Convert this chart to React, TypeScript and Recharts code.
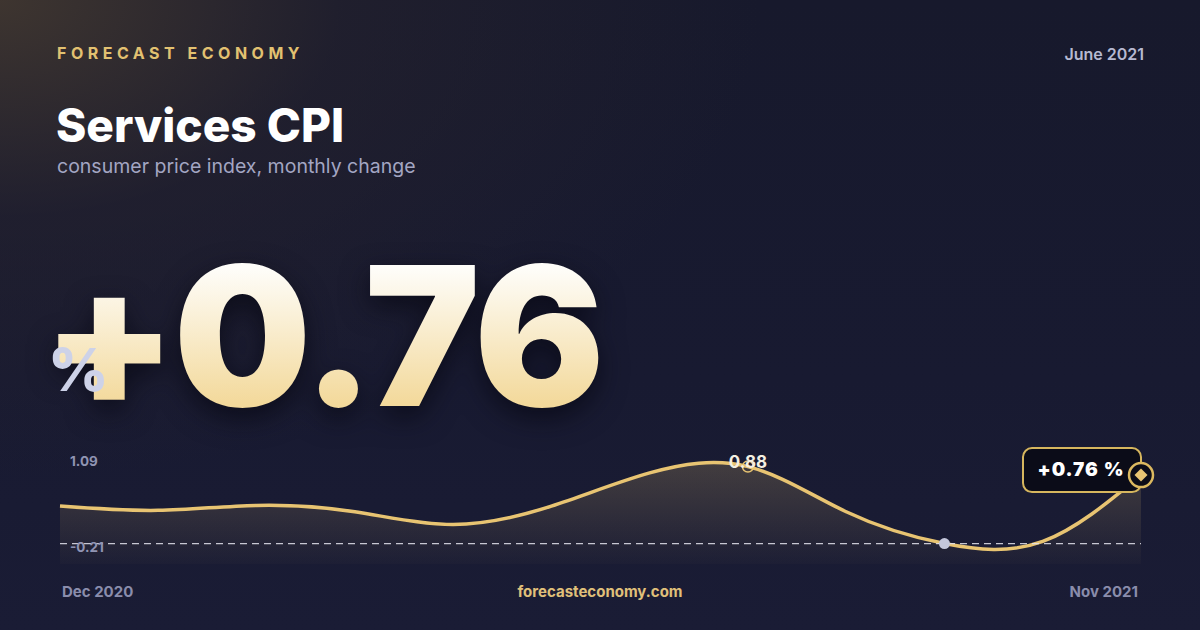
import React from "react";
import { AreaChart, Area, XAxis, YAxis, ReferenceLine } from "recharts";

// monthly change, Dec 2020 .. Nov 2021
const months = [
  "Dec 2020", "Jan 2021", "Feb 2021", "Mar 2021", "Apr 2021", "May 2021",
  "Jun 2021", "Jul 2021", "Aug 2021", "Sep 2021", "Oct 2021", "Nov 2021",
];
const cpiChange = [0.32, 0.26, 0.33, 0.24, 0.06, 0.32, 0.79, 0.88, 0.24, -0.21, -0.18, 0.76];
const rangeLabels = ["1.09", "-0.21"];
const minValue = -0.21;
const yDomain = [-0.5, 1.2];

const data = months.map((m, i) => ({ month: m, value: cpiChange[i] }));

const GOLD = "#e8c472";
const FONT = "Inter, 'Noto Sans', sans-serif";

const peakIdx = cpiChange.indexOf(Math.max(...cpiChange));
const lowIdx = cpiChange.indexOf(Math.min(...cpiChange));
const lastIdx = cpiChange.length - 1;

function Marker(props: any) {
  const { cx, cy, index } = props;
  if (cx == null || cy == null) return <g />;
  const v = cpiChange[index];
  if (index === peakIdx) {
    return (
      <g>
        <circle cx={cx} cy={cy} r={5.5} fill="none" stroke={GOLD} strokeWidth={1.5} />
        <text x={cx} y={cy + 1} textAnchor="middle" fill="#f4efe2" fontSize={17} fontWeight={700} fontFamily={FONT}>
          {v.toFixed(2)}
        </text>
      </g>
    );
  }
  if (index === lowIdx) {
    return (
      <g>
        <circle cx={cx} cy={cy} r={5.5} fill="#c4c7dc" />
      </g>
    );
  }
  if (index === lastIdx) {
    const d = 6.5;
    return (
      <g>
        <rect x={cx - 118} y={cy - 27} width={118} height={44} rx={9} fill="#0b0c18" stroke="#d6b65e" strokeWidth={2} />
        <text x={cx - 60} y={cy + 1} textAnchor="middle" fill="#ffffff" fontSize={19} fontWeight={900} letterSpacing={1} fontFamily={FONT}>
          {`+${v.toFixed(2)} %`}
        </text>
        <circle cx={cx} cy={cy} r={12} fill="#0b0c18" stroke="#dcb960" strokeWidth={2.5} />
        <polygon points={`${cx},${cy - d} ${cx + d},${cy} ${cx},${cy + d} ${cx - d},${cy}`} fill={GOLD} />
      </g>
    );
  }
  return <g />;
}

const abs = (left: number, top: number, extra: React.CSSProperties = {}): React.CSSProperties => ({
  position: "absolute",
  left,
  top,
  margin: 0,
  whiteSpace: "nowrap",
  ...extra,
});

export default function App() {
  return (
    <div
      style={{
        position: "absolute",
        left: 0,
        top: 0,
        width: 1200,
        height: 630,
        overflow: "hidden",
        fontFamily: FONT,
        background:
          "radial-gradient(ellipse 760px 480px at 0% 0%, rgba(66,56,48,0.9) 0%, rgba(40,36,46,0.5) 45%, rgba(24,26,46,0) 100%), linear-gradient(180deg, #17192c 0%, #181a31 60%, #1a1c35 100%)",
      }}
    >
      <div style={abs(57, 45, { fontSize: 16, lineHeight: "16px", fontWeight: 700, letterSpacing: 4.5, color: "#e2c171" })}>
        FORECAST ECONOMY
      </div>
      <div style={{ ...abs(0, 46, { fontSize: 16, lineHeight: "16px", fontWeight: 600, color: "#b6b9d1" }), left: "auto", right: 56 }}>
        June 2021
      </div>
      <div style={abs(56, 102, { fontSize: 46, lineHeight: "46px", fontWeight: 800, color: "#ffffff" })}>
        Services CPI
      </div>
      <div style={abs(57, 157, { fontSize: 19.5, lineHeight: "19.5px", fontWeight: 400, color: "#a3a6c3" })}>
        consumer price index, monthly change
      </div>

      <div
        style={abs(42, 239, {
          fontSize: 194,
          lineHeight: "194px",
          fontWeight: 900,
          letterSpacing: -3,
          color: "transparent",
          backgroundImage: "linear-gradient(180deg, #fefdf9 15%, #f3d99b 85%)",
          WebkitBackgroundClip: "text",
          backgroundClip: "text",
          filter: "drop-shadow(0px 10px 14px rgba(5,6,15,0.7))",
        })}
      >
        +0.76
      </div>
      <div style={abs(48, 340, { fontSize: 59, lineHeight: "59px", fontWeight: 800, color: "#cdd2e8" })}>%</div>

      <div style={{ position: "absolute", left: 40, top: 424 }}>
        <AreaChart width={1121} height={160} data={data} margin={{ top: 20, right: 20, bottom: 20, left: 20 }}>
          <defs>
            <linearGradient id="cpiFill" x1="0" y1="0" x2="0" y2="1">
              <stop offset="0%" stopColor={GOLD} stopOpacity={0.34} />
              <stop offset="100%" stopColor={GOLD} stopOpacity={0.03} />
            </linearGradient>
          </defs>
          <XAxis dataKey="month" hide />
          <YAxis domain={yDomain} hide />
          <Area
            type="natural"
            dataKey="value"
            baseValue={yDomain[0]}
            stroke={GOLD}
            strokeWidth={3.5}
            fill="url(#cpiFill)"
            isAnimationActive={false}
            activeDot={false}
            dot={(p: any) => <Marker {...p} key={`m-${p.index}`} />}
          />
          <ReferenceLine y={minValue} stroke="#e4e4ee" strokeOpacity={0.85} strokeWidth={1.3} strokeDasharray="7 5" />
        </AreaChart>
      </div>

      <div style={abs(70, 455, { fontSize: 13.5, lineHeight: "13.5px", fontWeight: 700, color: "#9094b3" })}>
        {rangeLabels[0]}
      </div>
      <div style={abs(70, 541, { fontSize: 13.5, lineHeight: "13.5px", fontWeight: 700, color: "#9094b3" })}>
        {rangeLabels[1]}
      </div>

      <div style={abs(62, 584, { fontSize: 15, lineHeight: "15px", fontWeight: 700, color: "#8a8dac" })}>{months[0]}</div>
      <div style={{ ...abs(0, 584, { fontSize: 15, lineHeight: "15px", fontWeight: 700, color: "#e0c07a" }), width: 1200, textAlign: "center" }}>
        forecasteconomy.com
      </div>
      <div style={{ ...abs(0, 584, { fontSize: 15, lineHeight: "15px", fontWeight: 700, color: "#8a8dac" }), left: "auto", right: 62 }}>
        {months[lastIdx]}
      </div>
    </div>
  );
}
